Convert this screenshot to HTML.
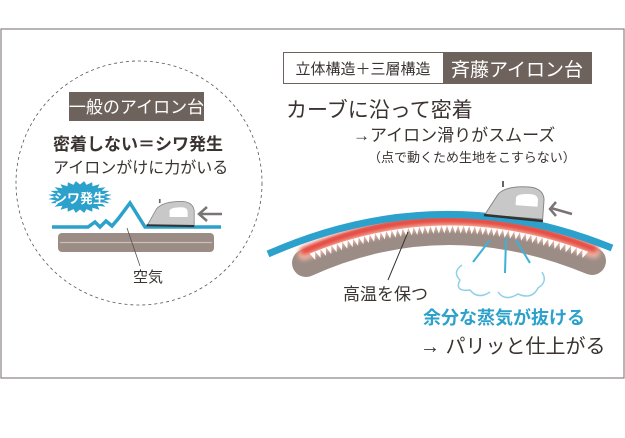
<!DOCTYPE html>
<html><head><meta charset="utf-8"><style>
body{margin:0;background:#fff;width:625px;height:438px;overflow:hidden}
svg{display:block}
text{font-family:"Liberation Sans","Noto Sans CJK JP",sans-serif}
</style></head><body>
<svg id="s" width="625" height="438" viewBox="0 0 625 438" xmlns="http://www.w3.org/2000/svg">
<defs>
<filter id="bl" x="-10%" y="-50%" width="120%" height="200%"><feGaussianBlur stdDeviation="2.5"/></filter>
</defs>
<rect x="1" y="29" width="623" height="349" fill="#fff" stroke="#8a8482" stroke-width="1.2"/>
<ellipse cx="139" cy="183" rx="123" ry="122" fill="none" stroke="#555" stroke-width="0.8" stroke-dasharray="3 3"/>
<rect x="69" y="92" width="135" height="29" fill="#6e625c"/>
<text x="136.5" y="113" font-size="17" fill="#fff" text-anchor="middle">一般のアイロン台</text>
<text x="53" y="150" font-size="17" font-weight="bold" fill="#3a3330">密着しない＝シワ発生</text>
<text x="53" y="173" font-size="16" fill="#3a3330">アイロンがけに力がいる</text>
<rect x="58" y="233" width="156" height="19" rx="4" fill="#9b8c86"/>
<line x1="60" y1="242.5" x2="212" y2="242.5" stroke="#c9bfbb" stroke-width="1.2"/>
<polyline points="52,227 88,227 95,222 100,227 106,221 112,226 118,219 130,203 145,227 221,227" fill="none" stroke="#2ba1cb" stroke-width="3.5"/>
<line x1="127" y1="228" x2="140" y2="266" stroke="#555" stroke-width="0.8"/>
<text x="133" y="282" font-size="15" fill="#3a3330">空気</text>
<polygon id="star" fill="#2ba1cb"/>
<text x="80" y="203" font-size="13" font-weight="bold" fill="#fff" text-anchor="middle">シワ発生</text>
<g transform="translate(145,199) scale(0.82)">
<path d="M4,30 L14,12 Q22,3 44,3 Q58,3 60,14 L60,32 L2,32 Z" fill="#c8c8c8" stroke="#888" stroke-width="1"/>
<path d="M30,14 Q32,10 44,10 Q52,10 52,16 L52,22 L30,22 Z" fill="#fff"/>
<line x1="2" y1="32" x2="60" y2="33" stroke="#333" stroke-width="2.5"/>
<line x1="18" y1="0" x2="18" y2="5" stroke="#666" stroke-width="2"/>
</g>
<g stroke="#7a7472" stroke-width="2.5" fill="none"><line x1="199" y1="214" x2="222" y2="214"/><polyline points="207,207 199,214 207,221"/></g>

<rect x="283.5" y="52.5" width="160" height="31" fill="#fff" stroke="#6e625c" stroke-width="1"/>
<rect x="443" y="52" width="149" height="32" fill="#6e625c"/>
<text x="363" y="74" font-size="15" fill="#3a3330" text-anchor="middle">立体構造＋三層構造</text>
<text x="517" y="76" font-size="19" fill="#fff" text-anchor="middle">斉藤アイロン台</text>
<text x="286" y="117" font-size="21" fill="#3a3330">カーブに沿って密着</text>
<text x="353" y="141" font-size="17" fill="#3a3330">→アイロン滑りがスムーズ</text>
<text x="368" y="162" font-size="13" fill="#3a3330">（点で動くため生地をこすらない）</text>

<path d="M306,263 Q445,200 592,261" fill="none" stroke="#9b8c86" stroke-width="28" stroke-linecap="round"/>
<path d="M304,254 Q445,194 594,252" fill="none" stroke="#f4b9a6" stroke-width="12" stroke-linecap="round" filter="url(#bl)"/>
<path d="M304,251 Q445,190 594,249" fill="none" stroke="#e5433a" stroke-width="7" stroke-linecap="round" filter="url(#bl)"/>
<g id="teeth" fill="#fff"></g>
<path d="M268,254 Q440,178 612,248" fill="none" stroke="#2ba1cb" stroke-width="7"/>

<g stroke="#3fb0d6" stroke-width="2" fill="none">
<line x1="490" y1="240" x2="473" y2="262"/>
<line x1="506" y1="238" x2="505" y2="273"/>
<line x1="516" y1="240" x2="530" y2="263"/>
</g>
<path d="M462,265 Q452,272 460,280 Q454,292 470,290 Q478,300 490,292 M498,292 Q505,302 518,294 Q532,300 538,288 Q548,282 542,272" fill="none" stroke="#8fd0e6" stroke-width="1.5"/>
<g transform="translate(483,183)">
<path d="M4,30 L14,12 Q22,3 44,3 Q58,3 60,14 L60,34 L2,34 Z" fill="#c8c8c8" stroke="#888" stroke-width="1" transform="rotate(4 30 30)"/>
<path d="M32,14 Q34,10 46,10 Q54,10 54,16 L54,22 L32,22 Z" fill="#fff" transform="rotate(4 30 30)"/>
<line x1="1" y1="32" x2="60" y2="38" stroke="#333" stroke-width="2.5"/>
<line x1="20" y1="-2" x2="20" y2="4" stroke="#666" stroke-width="2"/>
</g>
<g stroke="#7a7472" stroke-width="2.5" fill="none"><line x1="551" y1="208" x2="572" y2="214"/><polyline points="556,202 550,209 556,216"/></g>

<line x1="408" y1="232" x2="388" y2="280" stroke="#3a3330" stroke-width="1"/>
<text x="343" y="300" font-size="17" fill="#3a3330">高温を保つ</text>
<text x="423" y="324" font-size="18" font-weight="bold" fill="#2ba1cb">余分な蒸気が抜ける</text>
<text x="420" y="353" font-size="20" fill="#3a3330">→ パリッと仕上がる</text>
</svg>
<script>
(function(){
var ns="http://www.w3.org/2000/svg";
var pts=[],n=24,cx=80,cy=197;
for(var i=0;i<n*2;i++){var a=Math.PI*i/n,r=(i%2?1:0.78);pts.push((cx+Math.cos(a)*32*r).toFixed(1)+","+(cy+Math.sin(a)*16*r).toFixed(1));}
document.getElementById("star").setAttribute("points",pts.join(" "));
var P0=[304,256],P1=[445,196],P2=[594,254],g=document.getElementById("teeth");
function B(t){var u=1-t;return[u*u*P0[0]+2*u*t*P1[0]+t*t*P2[0],u*u*P0[1]+2*u*t*P1[1]+t*t*P2[1]];}
function D(t){var u=1-t;var dx=2*u*(P1[0]-P0[0])+2*t*(P2[0]-P1[0]),dy=2*u*(P1[1]-P0[1])+2*t*(P2[1]-P1[1]);var l=Math.hypot(dx,dy);return[dx/l,dy/l];}
var N=50;
for(var k=0;k<N;k++){
 var t0=0.02+0.96*k/N,t1=0.02+0.96*(k+1)/N,tm=(t0+t1)/2;
 var a=B(t0),b=B(t1),m=B(tm),d=D(tm),nx=-d[1],ny=d[0];
 var p=document.createElementNS(ns,"polygon");
 p.setAttribute("points",a[0]+","+a[1]+" "+b[0]+","+b[1]+" "+(m[0]+nx*8)+","+(m[1]+ny*8));
 g.appendChild(p);
}
})();
</script>
</body></html>
